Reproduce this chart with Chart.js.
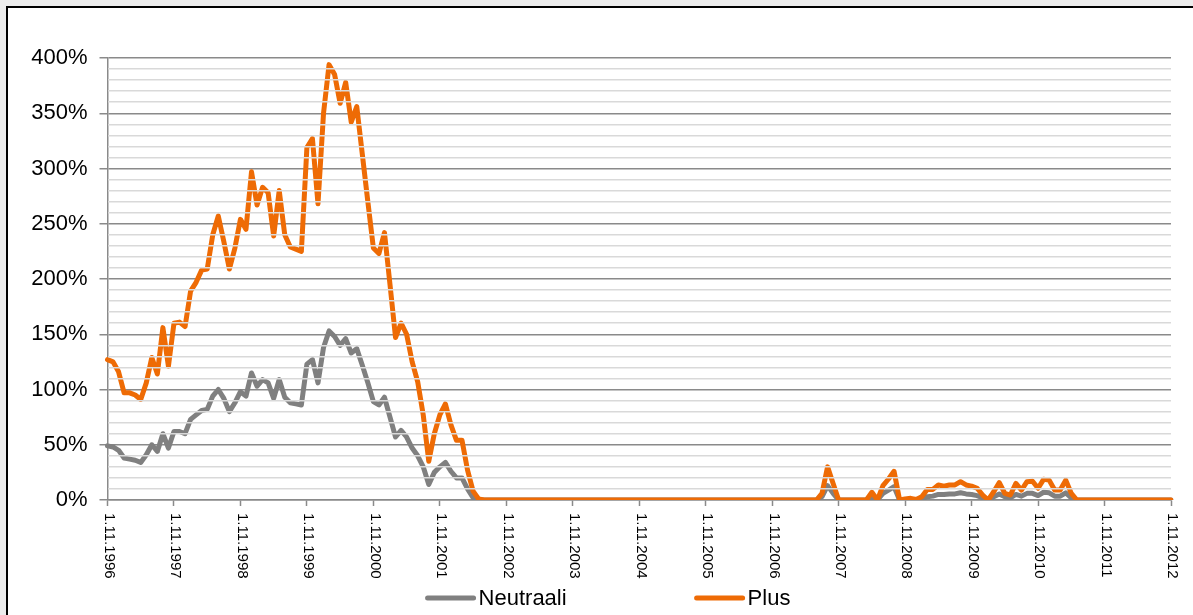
<!DOCTYPE html>
<html>
<head>
<meta charset="utf-8">
<script src="https://cdn.jsdelivr.net/npm/chart.js@4.4.1/dist/chart.umd.min.js"></script>
<style>
  html, body { margin: 0; padding: 0; background: #ececec; overflow: hidden; }
  #frame { position: absolute; left: 6px; top: 6px; width: 1200px; height: 620px;
           border: 2px solid #000; background: #fff; }
  #chart { position: absolute; left: 0; top: 0; }
</style>
</head>
<body>
<div id="frame"><canvas id="chart" width="1185" height="607"></canvas></div>
<script>
// monthly categories, 1.11.1996 ... 1.11.2012
const labels = [];
for (let i = 0; i <= 192; i++) {
    const m = (10 + i) % 12 + 1;
    const y = 1996 + Math.floor((10 + i) / 12);
    labels.push("1." + m + "." + y);
}

const tickLabels = ["1.11.1996", "1.11.1997", "1.11.1998", "1.11.1999", "1.11.2000", "1.11.2001",
    "1.11.2002", "1.11.2003", "1.11.2004", "1.11.2005", "1.11.2006", "1.11.2007",
    "1.11.2008", "1.11.2009", "1.11.2010", "1.11.2011", "1.11.2012"];

// values in %
const neutraali = [
    49, 48, 45, 38, 37, 36, 34, 41, 50, 44,
    60, 47, 62, 62, 60, 73, 77, 81, 82, 94,
    100, 92, 80, 88, 98, 94, 115, 103, 109, 106,
    92, 109, 93, 88, 87, 86, 123, 127, 106, 138,
    153, 148, 140, 146, 133, 137, 122, 106, 89, 86,
    93, 75, 57, 63, 57, 47, 40, 30, 14, 25,
    30, 34, 26, 20, 20, 10, 2, 0, 0, 0,
    0, 0, 0, 0, 0, 0, 0, 0, 0, 0,
    0, 0, 0, 0, 0, 0, 0, 0, 0, 0,
    0, 0, 0, 0, 0, 0, 0, 0, 0, 0,
    0, 0, 0, 0, 0, 0, 0, 0, 0, 0,
    0, 0, 0, 0, 0, 0, 0, 0, 0, 0,
    0, 0, 0, 0, 0, 0, 0, 0, 0, 3,
    13, 6, 0, 0, 0, 0, 0, 0, 3, 0,
    6, 9, 12, 0, 0, 0.5, 0, 1, 3, 3.5,
    5, 5, 5.5, 5.5, 6.5, 5.5, 5, 4, 2, 0,
    3, 5.5, 3, 2, 5, 3.5, 6, 6, 4, 7,
    6.5, 3.5, 3.5, 6.5, 2, 0, 0, 0, 0, 0,
    0, 0, 0, 0, 0, 0, 0, 0, 0, 0,
    0, 0, 0
];

const plus = [
    127, 125, 116, 97, 97, 95, 91, 106, 129, 114,
    156, 121, 160, 161, 157, 189, 197, 208, 209, 240,
    257, 234, 209, 228, 254, 245, 297, 267, 283, 278,
    239, 280, 240, 229, 227, 225, 319, 327, 268, 350,
    394, 385, 359, 378, 342, 356, 313, 270, 228, 223,
    242, 195, 147, 160, 150, 125, 107, 77, 35, 60,
    77, 87, 68, 54, 54, 27, 8, 1, 0, 0,
    0, 0, 0, 0, 0, 0, 0, 0, 0, 0,
    0, 0, 0, 0, 0, 0, 0, 0, 0, 0,
    0, 0, 0, 0, 0, 0, 0, 0, 0, 0,
    0, 0, 0, 0, 0, 0, 0, 0, 0, 0,
    0, 0, 0, 0, 0, 0, 0, 0, 0, 0,
    0, 0, 0, 0, 0, 0, 0, 0, 0, 6,
    30, 15, 0, 0, 0, 0, 0, 0, 7, 0,
    13, 19, 26, 0, 1, 1.5, 0.5, 3, 9.6, 9.6,
    13.6, 12.6, 13.6, 13.6, 16.6, 13.6, 12.6, 10.6, 4.5, 0,
    7.5, 15.7, 6, 4.5, 15, 9, 16.6, 17, 10.6, 18.7,
    18, 9, 9, 18, 6, 0, 0, 0, 0, 0,
    0, 0, 0, 0, 0, 0, 0, 0, 0, 0,
    0, 0, 0
];

const majorGrid = "#8a8a8a";
const minorGrid = "#d9d9d9";
const font = '"Liberation Sans", Arial, sans-serif';

// x tick labels (rotated to read downwards) and the legend
const customText = {
    id: "customText",
    afterDraw(chart) {
        const { ctx } = chart;
        const x = chart.scales.x;
        ctx.save();
        ctx.fillStyle = "#000";
        ctx.font = "15px " + font;
        ctx.textAlign = "left";
        ctx.textBaseline = "middle";
        tickLabels.forEach((t) => {
            const idx = labels.indexOf(t);
            const px = x.getPixelForValue(idx);
            ctx.save();
            ctx.translate(px + 1.5, x.top + 13);
            ctx.rotate(Math.PI / 2);
            ctx.fillText(t, 0, 0);
            ctx.restore();
        });

        // legend
        ctx.font = "22px " + font;
        const lineLen = 46, gapText = 5, gapItem = 130, ly = 590;
        const items = chart.data.datasets.map((d) => ({
            text: d.label, color: d.borderColor, w: lineLen + gapText + ctx.measureText(d.label).width
        }));
        const total = items.reduce((s, it) => s + it.w, 0) + gapItem * (items.length - 1);
        let cx = 601 - total / 2;
        items.forEach((it) => {
            ctx.strokeStyle = it.color;
            ctx.lineWidth = 5;
            ctx.lineCap = "round";
            ctx.beginPath();
            ctx.moveTo(cx, ly);
            ctx.lineTo(cx + lineLen, ly);
            ctx.stroke();
            ctx.fillText(it.text, cx + lineLen + gapText, ly + 1);
            cx += it.w + gapItem;
        });
        ctx.restore();
    }
};

new Chart(document.getElementById("chart"), {
    type: "line",
    data: {
        labels: labels,
        datasets: [
            {
                label: "Neutraali",
                data: neutraali,
                borderColor: "#808080",
                borderWidth: 5,
                pointRadius: 0,
                tension: 0,
                borderJoinStyle: "round",
                borderCapStyle: "round",
                order: 2,
            },
            {
                label: "Plus",
                data: plus,
                borderColor: "#ee6b05",
                borderWidth: 5,
                pointRadius: 0,
                tension: 0,
                borderJoinStyle: "round",
                borderCapStyle: "round",
                order: 1,
            },
        ],
    },
    options: {
        responsive: false,
        animation: false,
        devicePixelRatio: 1,
        layout: { padding: { left: 0, right: 22, top: 50, bottom: 0 } },
        plugins: {
            legend: { display: false },
            tooltip: { enabled: false },
        },
        scales: {
            x: {
                ticks: { display: false, autoSkip: false },
                grid: {
                    drawOnChartArea: false,
                    tickLength: 6,
                    tickWidth: 1.5,
                    tickColor: (c) => (c.index % 12 === 0 ? majorGrid : "transparent"),
                },
                border: { color: majorGrid, width: 1.5 },
                afterFit: (s) => { s.height = 115; },
            },
            y: {
                position: "left",
                min: 0,
                max: 400,
                ticks: {
                    stepSize: 10,
                    autoSkip: false,
                    padding: 12,
                    color: "#000",
                    font: { family: font, size: 22 },
                    callback: (v) => (v % 50 === 0 ? v + "%" : ""),
                },
                grid: {
                    tickLength: 8,
                    lineWidth: 1.5,
                    color: (c) => (c.tick.value % 50 === 0 ? majorGrid : "transparent"),
                    tickColor: (c) => (c.tick.value % 50 === 0 ? majorGrid : "transparent"),
                },
                border: { color: majorGrid, width: 1.5 },
                afterFit: (s) => { s.width = 99.5; },
            },
            // light minor lines, drawn over the series as in the original
            y2: {
                position: "left",
                min: 0,
                max: 400,
                ticks: { display: false, stepSize: 10 },
                grid: {
                    z: 1,
                    drawTicks: false,
                    lineWidth: 1.5,
                    color: (c) => (c.tick.value % 50 === 0 ? "transparent" : minorGrid),
                },
                border: { display: false },
                afterFit: (s) => { s.width = 0; },
            },
        },
    },
    plugins: [customText],
});
</script>
</body>
</html>
